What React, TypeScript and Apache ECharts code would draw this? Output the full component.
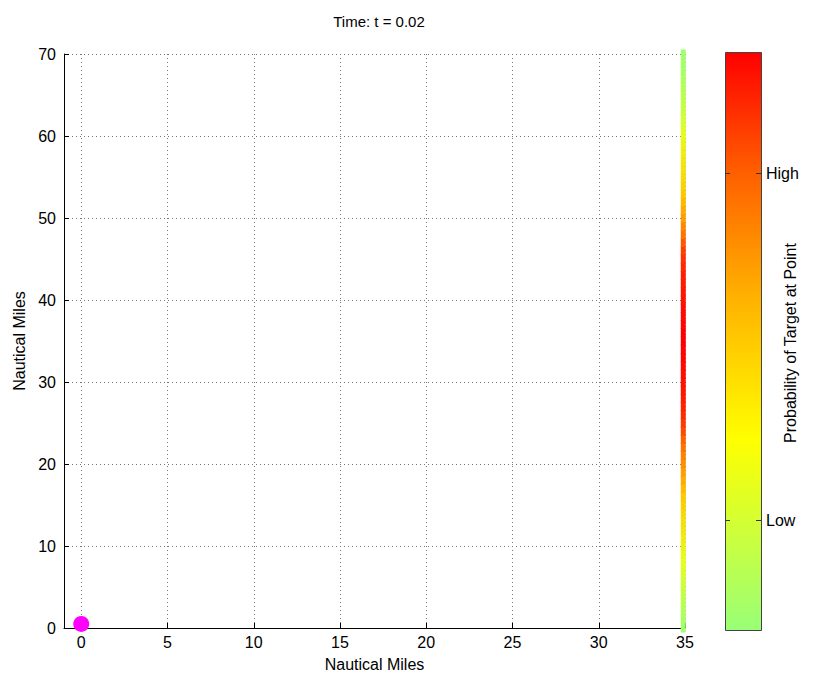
import React, { useEffect, useRef } from "react";
import * as echarts from "echarts";

const titleText = "Time: t = 0.02";
const xTickValues = [0, 5, 10, 15, 20, 25, 30, 35];
const stripX = 34.9;
// probability (0..1) at y = 0,1,2,...,70 nautical miles along the strip
const stripProbability = [
  0.03, 0.05, 0.08, 0.1, 0.13, 0.16, 0.19, 0.22, 0.25, 0.28,
  0.31, 0.34, 0.37, 0.4, 0.43, 0.47, 0.5, 0.54, 0.58, 0.62,
  0.66, 0.7, 0.74, 0.78, 0.83, 0.87, 0.9, 0.92, 0.94, 0.95,
  0.96, 0.97, 0.98, 0.99, 0.99, 1.0, 1.0, 0.99, 0.98, 0.97,
  0.96, 0.95, 0.94, 0.93, 0.91, 0.89, 0.86, 0.8, 0.74, 0.68,
  0.62, 0.58, 0.54, 0.5, 0.46, 0.42, 0.39, 0.36, 0.33, 0.3,
  0.26, 0.22, 0.19, 0.16, 0.13, 0.11, 0.09, 0.07, 0.05, 0.04,
  0.03,
];
const ownPosition = [[0, 0.5]];
const colorbarTicks = [
  { label: "Low", value: 0.19 },
  { label: "High", value: 0.79 },
];
const colorStops = [
  { offset: 0, color: "#99ff77" },
  { offset: 0.33, color: "#ffff00" },
  { offset: 0.58, color: "#ffb000" },
  { offset: 0.79, color: "#ff6000" },
  { offset: 1, color: "#ff0000" },
];
const mapColors = ["#99ff77", "#e6ff1d", "#ffc900", "#ff6f00", "#ff0000"];

const FONT = "Liberation Sans, Arial, Helvetica, sans-serif";

export default function App() {
  const ref = useRef<HTMLDivElement>(null);
  useEffect(() => {
    if (!ref.current) return;
    const chart = echarts.init(ref.current, undefined, { renderer: "svg" });
    const stripData = stripProbability.map((p, i) => [stripX, i, p]);

    const cbX = 725;
    const cbY = 52;
    const cbW = 36;
    const cbH = 578;
    const graphics: any[] = [
      {
        type: "rect",
        shape: { x: cbX + 0.5, y: cbY + 0.5, width: cbW, height: cbH },
        style: {
          fill: new echarts.graphic.LinearGradient(0, 1, 0, 0, colorStops),
          stroke: "#444",
          lineWidth: 1,
        },
        z: 10,
      },
      {
        type: "text",
        x: 790,
        y: 343,
        rotation: Math.PI / 2,
        style: {
          text: "Probability of Target at Point",
          font: `16px ${FONT}`,
          fill: "#000",
          align: "center",
          verticalAlign: "middle",
        },
        z: 10,
      },
    ];
    colorbarTicks.forEach((t) => {
      const y = Math.round(cbY + cbH * (1 - t.value)) + 0.5;
      graphics.push(
        { type: "line", shape: { x1: cbX, y1: y, x2: cbX + 5, y2: y }, style: { stroke: "#333", lineWidth: 1 }, z: 11 },
        { type: "line", shape: { x1: cbX + cbW - 5, y1: y, x2: cbX + cbW, y2: y }, style: { stroke: "#333", lineWidth: 1 }, z: 11 },
        {
          type: "text",
          x: cbX + cbW + 5,
          y,
          style: { text: t.label, font: `16px ${FONT}`, fill: "#000", align: "left", verticalAlign: "middle" },
          z: 11,
        }
      );
    });

    chart.setOption({
      animation: false,
      backgroundColor: "#fff",
      title: {
        text: titleText,
        left: 374,
        top: 9,
        textAlign: "center",
        textStyle: { fontFamily: FONT, fontSize: 15, fontWeight: "normal", color: "#000" },
      },
      grid: { left: 64, top: 54, width: 621, height: 574, containLabel: false, outerBoundsMode: "none" },
      xAxis: {
        type: "value",
        min: -1,
        max: 35,
        name: "Nautical Miles",
        nameLocation: "middle",
        nameGap: 28,
        nameTextStyle: { fontFamily: FONT, fontSize: 16, color: "#000" },
        axisLine: { show: true, onZero: false, lineStyle: { color: "#000", width: 1 } },
        axisTick: { show: true, inside: true, length: 5, customValues: xTickValues, lineStyle: { color: "#000" } },
        axisLabel: { customValues: xTickValues, fontFamily: FONT, fontSize: 16, color: "#000", margin: 6 },
        splitLine: { show: true, lineStyle: { color: "#777", type: [1, 3], width: 1 } },
      },
      yAxis: {
        type: "value",
        min: 0,
        max: 70,
        interval: 10,
        name: "Nautical Miles",
        nameLocation: "middle",
        nameGap: 34,
        nameTextStyle: { fontFamily: FONT, fontSize: 16, color: "#000" },
        axisLine: { show: true, onZero: false, lineStyle: { color: "#000", width: 1 } },
        axisTick: { show: true, inside: true, length: 5, lineStyle: { color: "#000" } },
        axisLabel: { fontFamily: FONT, fontSize: 16, color: "#000", margin: 8 },
        splitLine: { show: true, lineStyle: { color: "#777", type: [1, 3], width: 1 } },
      },
      visualMap: {
        show: false,
        type: "continuous",
        seriesIndex: 0,
        dimension: 2,
        min: 0,
        max: 1,
        inRange: { color: mapColors },
      },
      graphic: graphics,
      series: [
        {
          type: "scatter",
          data: stripData,
          symbol: "rect",
          symbolSize: [5, 9],
          itemStyle: { opacity: 1 },
          clip: false,
          z: 3,
        },
        {
          type: "scatter",
          data: ownPosition,
          symbol: "circle",
          symbolSize: 16,
          itemStyle: { color: "#ff00ff", opacity: 1 },
          clip: false,
          z: 4,
        },
      ],
    });
    return () => chart.dispose();
  }, []);
  return (
    <div
      ref={ref}
      style={{ position: "fixed", left: 0, top: 0, width: 823, height: 676, background: "#fff" }}
    />
  );
}
